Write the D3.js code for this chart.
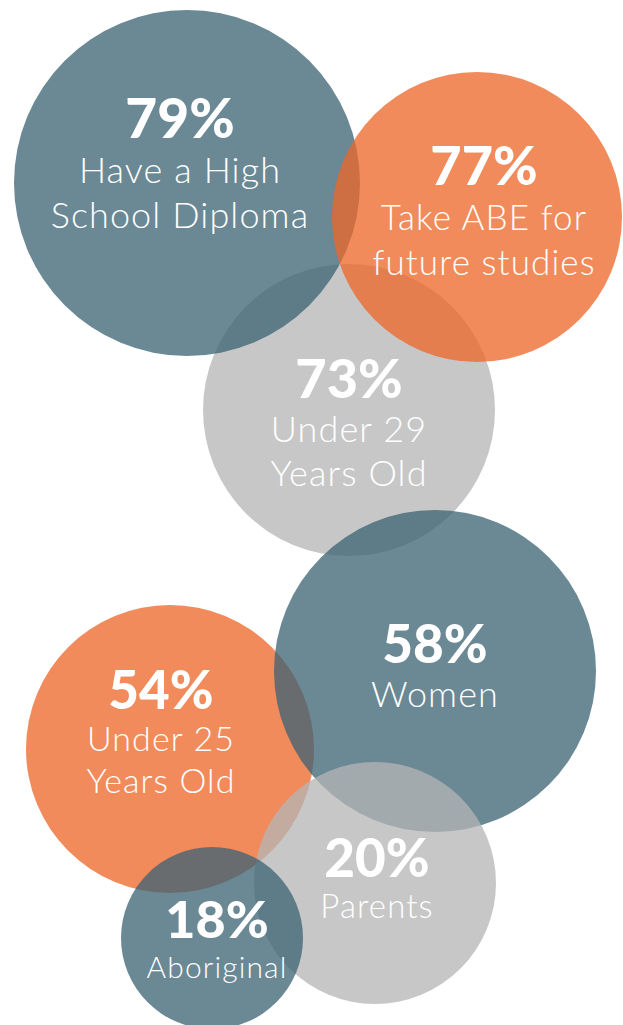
<!DOCTYPE html>
<html>
<head>
<meta charset="utf-8">
<script src="https://cdn.jsdelivr.net/npm/d3@7"></script>
<style>
  body { margin: 0; background: #fff; }
  .pct { font-family: Lato, "Noto Sans", sans-serif; font-weight: 900; fill: #fff; text-anchor: middle; }
  .lbl { font-family: Lato, "Noto Sans", sans-serif; font-weight: 300; fill: #fff; text-anchor: middle; letter-spacing: 1.1px; }
</style>
</head>
<body>
<div id="chart"></div>
<script>
var width = 623, height = 1025;

// values, listed in drawing order (back to front)
var pcts   = [73, 79, 77, 54, 58, 20, 18];
var labels = [
  ["Under 29", "Years Old"],
  ["Have a High", "School Diploma"],
  ["Take ABE for", "future studies"],
  ["Under 25", "Years Old"],
  ["Women"],
  ["Parents"],
  ["Aboriginal"]
];
var groups = ["grey", "slate", "orange", "orange", "slate", "grey", "slate"];

// layout: circle centre/radius, text anchor (percent baseline), font sizes, line step
var layout = [
  {cx: 349, cy: 410, r: 146, tx: 349, ty: 398, pfs: 54, fs: 36, step: 44},
  {cx: 187, cy: 183, r: 173, tx: 180, ty: 138, pfs: 55, fs: 36, step: 45},
  {cx: 477, cy: 217, r: 145, tx: 484, ty: 185, pfs: 54, fs: 35, step: 45},
  {cx: 170, cy: 749, r: 144, tx: 161, ty: 709, pfs: 53, fs: 34, step: 42},
  {cx: 435, cy: 671, r: 161, tx: 435, ty: 663, pfs: 53, fs: 36, step: 44},
  {cx: 375, cy: 883, r: 121, tx: 377, ty: 877, pfs: 53, fs: 33, step: 41},
  {cx: 212, cy: 938, r: 91,  tx: 217, ty: 938, pfs: 52, fs: 30, step: 40}
];

var color = d3.scaleOrdinal()
  .domain(["slate", "orange", "grey"])
  .range(["#3d6374", "#ed6629", "#b5b5b5"]);

var items = pcts.map(function(p, i) {
  return {pct: p, label: labels[i], group: groups[i], pos: layout[i]};
});

var svg = d3.select("#chart").append("svg")
  .attr("width", width)
  .attr("height", height);

var g = svg.selectAll("g.bubble")
  .data(items)
  .enter().append("g")
  .attr("class", "bubble");

g.append("circle")
  .attr("cx", function(d) { return d.pos.cx; })
  .attr("cy", function(d) { return d.pos.cy; })
  .attr("r", function(d) { return d.pos.r; })
  .attr("fill", function(d) { return color(d.group); })
  .attr("fill-opacity", 0.76);

// text goes on top of everything
var t = svg.selectAll("g.txt")
  .data(items)
  .enter().append("g")
  .attr("class", "txt");

t.append("text")
  .attr("class", "pct")
  .attr("x", function(d) { return d.pos.tx; })
  .attr("y", function(d) { return d.pos.ty; })
  .style("font-size", function(d) { return d.pos.pfs + "px"; })
  .text(function(d) { return d.pct + "%"; });

t.each(function(d) {
  d3.select(this).selectAll("text.lbl")
    .data(d.label)
    .enter().append("text")
    .attr("class", "lbl")
    .attr("x", d.pos.tx)
    .attr("y", function(s, j) { return d.pos.ty + d.pos.step * (j + 1); })
    .style("font-size", d.pos.fs + "px")
    .text(String);
});
</script>
</body>
</html>
